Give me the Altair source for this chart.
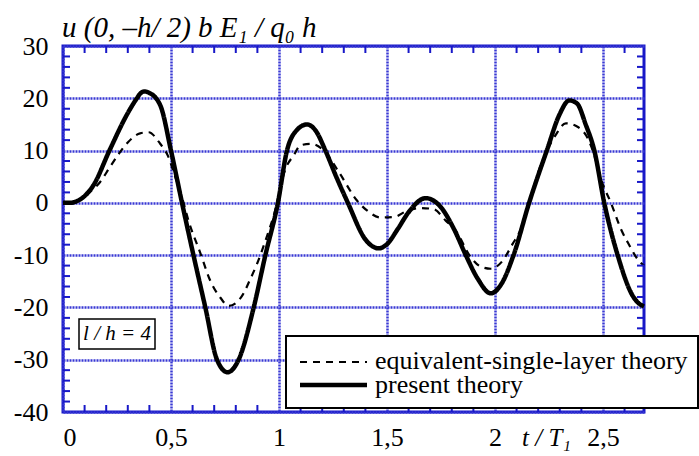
import altair as alt
import pandas as pd

# Mid-surface displacement u(0,-h/2) b E1 / (q0 h) versus dimensionless time t/T1
t_present = [0, 0.03, 0.063, 0.10, 0.14, 0.215, 0.295, 0.342, 0.36, 0.378, 0.396, 0.45, 0.50,
             0.551, 0.604, 0.659, 0.713, 0.762, 0.813, 0.883, 0.937, 0.995, 1.037, 1.08,
             1.13, 1.17, 1.215, 1.265, 1.319, 1.40, 1.462, 1.50, 1.55, 1.60, 1.679, 1.749,
             1.81, 1.865, 1.92, 1.98, 2.03, 2.086, 2.158, 2.24, 2.30, 2.344, 2.38, 2.42,
             2.46, 2.506, 2.568, 2.638, 2.66, 2.69]
u_present = [0, 0, 0.3, 1.3, 3.3, 10.0, 16.8, 20.0, 21.0, 21.3, 21.1, 18.7, 10.0,
             0, -10.0, -20.0, -30.0, -32.4, -30.0, -20.0, -10.0, 0, 10.0, 13.8,
             15.0, 13.8, 10.0, 5.0, 0, -7.0, -8.7, -7.9, -5.0, -1.8, 0.9, -0.8,
             -5.0, -10.0, -14.5, -17.3, -15.5, -10.0, 0, 10.0, 17.0, 19.6, 19.0, 15.0,
             10.0, 0, -10.0, -17.8, -19.0, -19.8]

t_esl = [0, 0.06, 0.125, 0.172, 0.218, 0.264, 0.303, 0.357, 0.396, 0.45, 0.488, 0.512,
         0.55, 0.581, 0.635, 0.682, 0.728, 0.767, 0.829, 0.867, 0.898, 0.945, 0.976,
         1.03, 1.068, 1.10, 1.146, 1.207, 1.277, 1.362, 1.409, 1.47, 1.532, 1.594,
         1.656, 1.716, 1.772, 1.818, 1.888, 1.934, 1.98, 2.035, 2.081, 2.12, 2.165,
         2.212, 2.28, 2.328, 2.38, 2.43, 2.46, 2.49, 2.537, 2.583, 2.622, 2.661, 2.69]
u_esl = [0, 0.2, 2.1, 4.0, 6.9, 9.7, 11.7, 13.3, 13.5, 11.3, 8.8, 5.9,
         1.2, -3.4, -9.5, -14.9, -18.1, -19.7, -17.8, -14.6, -11.7, -6.3, -2.4,
         6.5, 9.1, 11.0, 11.3, 10.0, 5.9, 0.4, -1.5, -2.8, -2.7, -1.5,
         -1.0, -1.2, -3.4, -5.3, -10.4, -12.2, -12.6, -11.1, -7.9, -5.0, 1.0,
         7.2, 12.9, 15.2, 14.6, 12.3, 9.1, 4.6, 0, -5.0, -8.1, -10.8, -12.0]

SERIES = ["equivalent-single-layer theory", "present theory"]

x_major = [0, 0.5, 1, 1.5, 2, 2.5]
y_major = [-40, -30, -20, -10, 0, 10, 20, 30]
x_minor = [round(0.1 * i, 1) for i in range(1, 27) if i % 5]
y_minor = [v for v in range(-38, 30, 2) if v % 10]

Y_TITLE = "u (0, –h/ 2) b E₁ / q₀ h"
X_TITLE = "t / T₁"
PARAM_LABEL = "l / h = 4"

W, H = 581, 366
FONT = "Liberation Serif"
GRID_BLUE = "#3838d4"
EDGE_BLUE = "#1818c8"
DASH = [7, 6]

curves = pd.concat([
    pd.DataFrame({"t": t_esl, "u": u_esl, "series": SERIES[0]}),
    pd.DataFrame({"t": t_present, "u": u_present, "series": SERIES[1]}),
])

x_scale = alt.Scale(domain=[0, 2.69], nice=False, zero=False)
y_scale = alt.Scale(domain=[-40, 30], nice=False, zero=False)

x_axis = alt.Axis(
    values=x_major, grid=True, ticks=False, domain=False, labelPadding=12,
    labelFont=FONT, labelFontSize=26, labelColor="black",
    labelExpr="replace('' + datum.value, '.', ',')",
    title=X_TITLE, titleFontStyle="italic", titleX=483, titleY=25,
    titleAlign="center", titleBaseline="middle")
y_axis = alt.Axis(
    values=y_major, grid=True, ticks=False, domain=False, labelPadding=15,
    labelFont=FONT, labelFontSize=26, labelColor="black",
    labelExpr="datum.value < 0 ? '-' + (-datum.value) : '' + datum.value",
    title=None)

X = alt.X("t:Q", scale=x_scale, axis=x_axis)
Y = alt.Y("u:Q", scale=y_scale, axis=y_axis)

lines = alt.Chart(curves).mark_line(color="black", interpolate="monotone").encode(
    x=X, y=Y,
    strokeDash=alt.StrokeDash("series:N", scale=alt.Scale(domain=SERIES, range=[DASH, [1, 0]]),
                              legend=None),
    strokeWidth=alt.StrokeWidth("series:N", scale=alt.Scale(domain=SERIES, range=[2.2, 4.5]),
                                legend=None),
)

# inward minor ticks on all four sides of the frame
xt = pd.DataFrame({"t": x_minor})
yt = pd.DataFrame({"u": y_minor})
top_ticks = alt.Chart(xt).mark_rule(color=EDGE_BLUE, strokeWidth=2).encode(
    x=X, y=alt.value(0), y2=alt.value(7))
bottom_ticks = alt.Chart(xt).mark_rule(color=EDGE_BLUE, strokeWidth=2).encode(
    x=X, y=alt.value(H - 7), y2=alt.value(H))
left_ticks = alt.Chart(yt).mark_rule(color=EDGE_BLUE, strokeWidth=2).encode(
    y=Y, x=alt.value(0), x2=alt.value(7))
right_ticks = alt.Chart(yt).mark_rule(color=EDGE_BLUE, strokeWidth=2).encode(
    y=Y, x=alt.value(W - 7), x2=alt.value(W))

# y quantity label above the frame
y_title = alt.Chart(pd.DataFrame({"label": [Y_TITLE]})).mark_text(
    align="left", baseline="middle", font=FONT, fontSize=29, fontStyle="italic", color="black"
).encode(text="label:N", x=alt.value(-1), y=alt.value(-18))

# boxed parameter label
param = pd.DataFrame({"label": [PARAM_LABEL]})
param_box = alt.Chart(param).mark_rect(fill="white", stroke="black", strokeWidth=1.5).encode(
    x=alt.value(16), x2=alt.value(92), y=alt.value(273), y2=alt.value(303))
param_text = alt.Chart(param).mark_text(
    align="center", baseline="middle", font=FONT, fontSize=21, fontStyle="italic", color="black"
).encode(text="label:N", x=alt.value(54), y=alt.value(288))

# series key in the lower right corner
key = pd.DataFrame({"series": SERIES})
key_box = alt.Chart(key).transform_filter(alt.datum.series == SERIES[0]).mark_rect(
    fill="white", stroke="black", strokeWidth=2).encode(
    x=alt.value(223), x2=alt.value(635), y=alt.value(290), y2=alt.value(362))
key_esl = alt.Chart(key).transform_filter(alt.datum.series == SERIES[0])
key_pt = alt.Chart(key).transform_filter(alt.datum.series == SERIES[1])
esl_sample = key_esl.mark_rule(color="black", strokeWidth=2.2, strokeDash=DASH).encode(
    x=alt.value(237), x2=alt.value(304), y=alt.value(316))
pt_sample = key_pt.mark_rule(color="black", strokeWidth=4.5).encode(
    x=alt.value(237), x2=alt.value(304), y=alt.value(339))
key_text_style = dict(align="left", baseline="middle", font=FONT, fontSize=26, color="black")
esl_label = key_esl.mark_text(**key_text_style).encode(
    text="series:N", x=alt.value(312), y=alt.value(315))
pt_label = key_pt.mark_text(**key_text_style).encode(
    text="series:N", x=alt.value(312), y=alt.value(339))

chart = alt.layer(
    lines, top_ticks, bottom_ticks, left_ticks, right_ticks, y_title, param_box, param_text,
    key_box, esl_sample, pt_sample, esl_label, pt_label
).properties(
    width=W, height=H,
    autosize=alt.AutoSizeParams(type="none"),
    padding={"left": 63, "top": 46, "right": 55, "bottom": 44},
).configure(
    font=FONT
).configure_view(
    stroke=EDGE_BLUE, strokeWidth=3
).configure_axis(
    gridColor=GRID_BLUE, gridDash=[2, 1], gridWidth=2.5,
    labelFont=FONT, labelFontSize=26, labelColor="black",
    titleFont=FONT, titleFontSize=25, titleFontWeight="normal", titleColor="black",
)

chart.save("out.html", embed_options={"renderer": "svg", "actions": False})
